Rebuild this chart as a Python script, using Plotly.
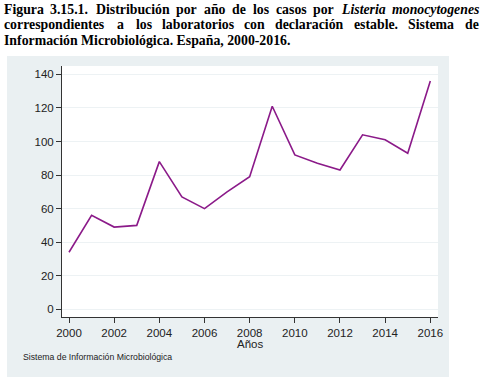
import plotly.graph_objects as go

years = list(range(2000, 2017))
cases = [34, 56, 49, 50, 88, 67, 60, 70, 79, 121, 92, 87, 83, 104, 101, 93, 136]
x_ticks = [2000, 2002, 2004, 2006, 2008, 2010, 2012, 2014, 2016]
y_ticks = [0, 20, 40, 60, 80, 100, 120, 140]

title_line1 = [("Figura", 4, False), ("3.15.1.", 50, False), ("Distribución", 96, False),
               ("por", 176, False), ("año", 204, False), ("de", 232, False), ("los", 253, False),
               ("casos", 276, False), ("por", 313, False), ("Listeria", 341, True),
               ("monocytogenes", 392, True)]
title_line2 = [("correspondientes", 4, False), ("a", 117, False), ("los", 136, False),
               ("laboratorios", 162, False), ("con", 244, False), ("declaración", 275, False),
               ("estable.", 354, False), ("Sistema", 408, False), ("de", 465, False)]
title_line3 = "Información Microbiológica. España, 2000-2016."
caption = "Sistema de Información Microbiológica"
x_title = "Años"

W, H = 488, 385
L, R, T, B = 62, 438, 66, 317
PW, PH = R - L, B - T


def px(x):
    return (x - L) / PW


def py(y):
    return (B - y) / PH


fig = go.Figure()
fig.add_trace(go.Scatter(x=years, y=cases, mode="lines",
                         line=dict(color="#8b1a89", width=1.6), hoverinfo="x+y"))

shapes = [
    dict(type="rect", xref="paper", yref="paper", x0=px(7), x1=px(449), y0=py(377), y1=py(56),
         fillcolor="#eaf0f2", line=dict(width=0), layer="below"),
    dict(type="rect", xref="paper", yref="paper", x0=0, x1=1, y0=0, y1=1,
         fillcolor="white", line=dict(width=0), layer="below"),
]

ann = []
tfont = dict(family="Liberation Serif", size=13.8, color="black")
for i, line in enumerate([title_line1, title_line2]):
    yc = [10, 25][i]
    for j, (w, xpos, it) in enumerate(line):
        txt = f"<b><i>{w}</i></b>" if it else f"<b>{w}</b>"
        ann.append(dict(text=txt, xref="paper", yref="paper", x=px(xpos - 1), y=py(yc),
                        xanchor="left", yanchor="middle", borderpad=0,
                        showarrow=False, font=tfont))
ann.append(dict(text=f"<b>{title_line3}</b>", xref="paper", yref="paper", x=px(3), y=py(40),
                xanchor="left", yanchor="middle", borderpad=0, showarrow=False, font=tfont))
ann.append(dict(text=x_title, xref="paper", yref="paper", x=px(250), y=py(344),
                xanchor="center", yanchor="middle", showarrow=False,
                font=dict(family="Liberation Sans", size=11.5, color="#222")))
ann.append(dict(text=caption, xref="paper", yref="paper", x=px(21), y=py(357),
                xanchor="left", yanchor="middle", showarrow=False,
                font=dict(family="Liberation Sans", size=8.7, color="#222")))

fig.update_layout(
    width=W, height=H, autosize=False,
    margin=dict(l=L, r=W - R, t=T, b=H - B, pad=0),
    paper_bgcolor="white", plot_bgcolor="white",
    showlegend=False, shapes=shapes, annotations=ann,
    font=dict(family="Liberation Sans", size=11.5, color="#222"),
)
fig.update_xaxes(range=[1999.69, 2016.34], tickvals=x_ticks, ticks="outside", ticklen=5,
                 tickcolor="#333", showline=True, linecolor="#333", linewidth=1,
                 showgrid=False, zeroline=False, tickfont=dict(size=11.5, color="#222"))
fig.update_yaxes(range=[-4.6, 145], tickvals=y_ticks, ticks="outside", ticklen=5,
                 tickcolor="#333", showline=True, linecolor="#333", linewidth=1,
                 showgrid=True, gridcolor="#edf2f4", gridwidth=1, zeroline=False,
                 tickfont=dict(size=11.5, color="#222"))
fig.write_html("out.html", config={"displayModeBar": False},
               post_script="document.body.style.margin='0';")
